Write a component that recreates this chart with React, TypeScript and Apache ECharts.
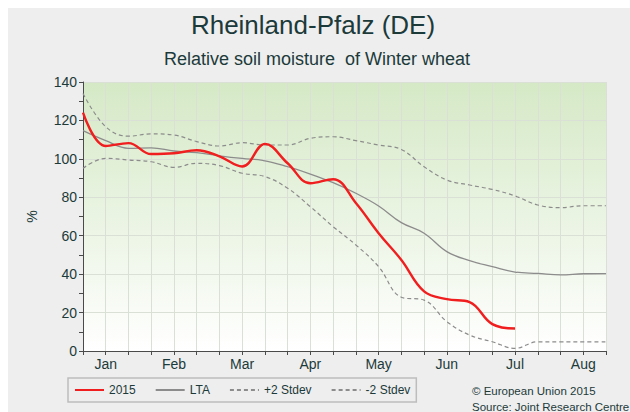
import React, { useEffect, useRef } from "react";
import * as echarts from "echarts";

const TITLE = "Rheinland-Pfalz (DE)";
const SUBTITLE = "Relative soil moisture  of Winter wheat";
const MONTHS = ["Jan", "Feb", "Mar", "Apr", "May", "Jun", "Jul", "Aug"];
const DEKADS = [0, 1, 2, 3, 4, 5, 6, 7, 8, 9, 10, 11, 12, 13, 14, 15, 16, 17, 18, 19, 20, 21, 22, 23];
const Y_TICKS = [0, 20, 40, 60, 80, 100, 120, 140];

const S2015 = [124, 106.7, 108.2, 102.5, 102.9, 104.5, 101.3, 96, 107.8, 97.7, 87.3, 89.4, 77, 61.3, 47.4, 31, 27, 25.5, 14, 11.7];
const LTA = [114.7, 109.5, 105.5, 105.7, 104.1, 103.2, 101.6, 100.2, 99, 95.9, 92.1, 87.6, 82.1, 75.5, 66.8, 61.3, 51.7, 47, 43.9, 41.1, 40.4, 39.6, 40.2, 40.3];
const PLUS2 = [134, 116.7, 111.8, 113, 112.4, 109, 106.7, 108.4, 107.2, 107.2, 110.7, 111.5, 109.5, 107.2, 104.9, 95.9, 89, 86.4, 84.1, 80.7, 76, 74.6, 75.6, 75.6];
const MINUS2 = [95.1, 100.3, 99.4, 98.5, 95.6, 97.7, 96.5, 92.5, 90.8, 84.7, 75.1, 64.7, 55.2, 43.9, 28, 26.5, 15.3, 8.3, 4.8, 1.4, 4.8, 4.8, 4.8, 4.8];

const FONT = "'Liberation Sans', Arial, Helvetica, sans-serif";
const TEXT = "#1c3a3a";

const pairs = (vals: number[]) => vals.map((v, i) => [DEKADS[i], v]);

export default function App() {
  const ref = useRef<HTMLDivElement>(null);
  useEffect(() => {
    if (!ref.current) return;
    const chart = echarts.init(ref.current, undefined, { renderer: "svg" });
    chart.setOption({
      animation: false,
      backgroundColor: "#eeeeee",
      textStyle: { fontFamily: FONT },
      grid: {
        left: 75,
        right: 24,
        top: 74,
        bottom: 61,
        show: true,
        borderWidth: 0,
        outerBoundsMode: "none",
        backgroundColor: new echarts.graphic.LinearGradient(0, 0, 0, 1, [
          { offset: 0, color: "#d5e9c6" },
          { offset: 1, color: "#ffffff" },
        ]),
      },
      xAxis: {
        type: "value",
        min: 0,
        max: 23,
        interval: 1,
        axisLine: { show: true, onZero: false, lineStyle: { color: "#4a4a4a", width: 1 } },
        axisTick: { show: true, length: 4, lineStyle: { color: "#4a4a4a" } },
        splitLine: { show: true, lineStyle: { color: "#dbe0d6", width: 1 } },
        axisLabel: {
          margin: 6,
          fontSize: 14,
          color: TEXT,
          fontFamily: FONT,
          showMinLabel: true,
          showMaxLabel: true,
          formatter: (v: number) => {
            const i = (v - 1) / 3;
            return Number.isInteger(i) && i >= 0 && i < MONTHS.length ? MONTHS[i] : "";
          },
        },
      },
      yAxis: {
        type: "value",
        min: Y_TICKS[0],
        max: Y_TICKS[Y_TICKS.length - 1],
        interval: 20,
        name: "%",
        nameLocation: "middle",
        nameGap: 44,
        nameTextStyle: { fontSize: 14, color: TEXT, fontFamily: FONT },
        axisLine: { show: true, lineStyle: { color: "#4a4a4a", width: 1 } },
        axisTick: { show: true, length: 4, lineStyle: { color: "#4a4a4a" } },
        minorTick: { show: true, splitNumber: 2, length: 4, lineStyle: { color: "#4a4a4a" } },
        splitLine: { show: true, lineStyle: { color: "#dbe0d6", width: 1 } },
        axisLabel: { margin: 6, fontSize: 14, color: TEXT, fontFamily: FONT },
      },
      legend: {
        left: 60,
        top: 370,
        orient: "horizontal",
        itemWidth: 29,
        itemHeight: 14,
        itemGap: 19,
        padding: [6, 6],
        borderColor: "#bdbdbd",
        borderWidth: 1.5,
        backgroundColor: "#eeeeee",
        itemStyle: { opacity: 0 },
        textStyle: { fontSize: 12, color: TEXT, fontFamily: FONT },
        data: ["2015", "LTA", "+2 Stdev", "-2 Stdev"],
      },
      graphic: [
        {
          type: "text",
          x: 305,
          y: 17,
          style: {
            text: TITLE,
            fontSize: 26,
            fontFamily: FONT,
            fill: TEXT,
            align: "center",
            verticalAlign: "middle",
            textAlign: "center",
            textVerticalAlign: "middle",
          },
        },
        {
          type: "text",
          x: 309,
          y: 51,
          style: {
            text: SUBTITLE,
            fontSize: 18,
            fontFamily: FONT,
            fill: TEXT,
            align: "center",
            verticalAlign: "middle",
            textAlign: "center",
            textVerticalAlign: "middle",
          },
        },
        {
          type: "text",
          x: 464,
          y: 383,
          style: {
            text: "© European Union 2015",
            fontSize: 11.5,
            fontFamily: FONT,
            fill: TEXT,
            align: "left",
            verticalAlign: "middle",
            textAlign: "left",
            textVerticalAlign: "middle",
          },
        },
        {
          type: "text",
          x: 464,
          y: 399,
          style: {
            text: "Source: Joint Research Centre",
            fontSize: 11.5,
            fontFamily: FONT,
            fill: TEXT,
            align: "left",
            verticalAlign: "middle",
            textAlign: "left",
            textVerticalAlign: "middle",
          },
        },
      ],
      series: [
        {
          name: "LTA",
          type: "line",
          data: pairs(LTA),
          smooth: 0.4,
          symbol: "none",
          lineStyle: { color: "#8c8c8c", width: 1.3 },
          itemStyle: { color: "#8c8c8c" },
          z: 3,
        },
        {
          name: "+2 Stdev",
          type: "line",
          data: pairs(PLUS2),
          smooth: 0.4,
          symbol: "none",
          lineStyle: { color: "#8c8c8c", width: 1.2, type: [4, 3] },
          itemStyle: { color: "#8c8c8c" },
          z: 3,
        },
        {
          name: "-2 Stdev",
          type: "line",
          data: pairs(MINUS2),
          smooth: 0.4,
          symbol: "none",
          lineStyle: { color: "#8c8c8c", width: 1.2, type: [4, 3] },
          itemStyle: { color: "#8c8c8c" },
          z: 3,
        },
        {
          name: "2015",
          type: "line",
          data: pairs(S2015),
          smooth: 0.4,
          symbol: "none",
          lineStyle: { color: "#f01e1e", width: 2.4 },
          itemStyle: { color: "#f01e1e" },
          z: 4,
        },
      ],
    });
    return () => chart.dispose();
  }, []);
  return (
    <div
      ref={ref}
      style={{ position: "fixed", left: 8, top: 8, width: 622, height: 404 }}
    />
  );
}
